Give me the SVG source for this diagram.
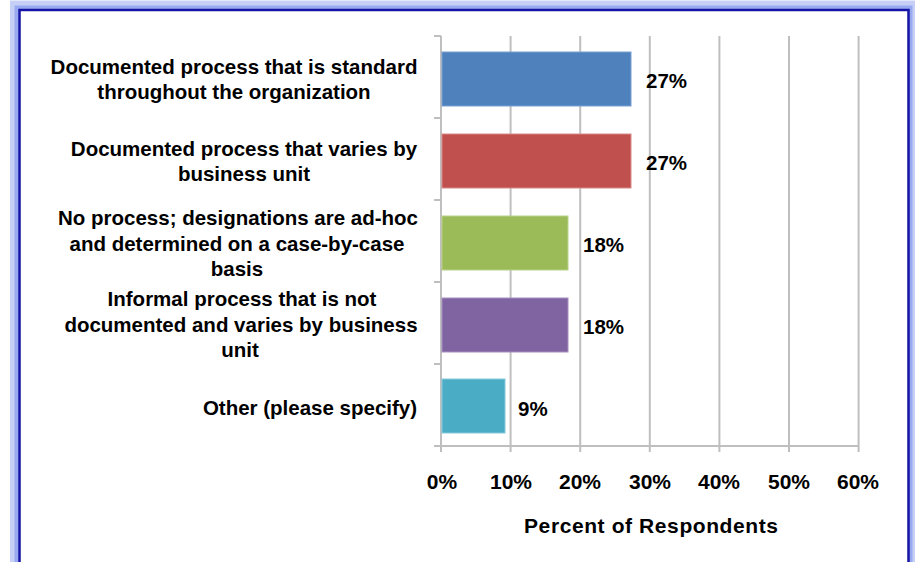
<svg xmlns="http://www.w3.org/2000/svg" width="915" height="562" viewBox="0 0 915 562">
<style>
.lbl{font-family:"Liberation Sans",Arial,sans-serif;font-weight:bold;font-size:20.5px;fill:#000;text-anchor:middle}
.val{font-family:"Liberation Sans",Arial,sans-serif;font-weight:bold;font-size:20.5px;fill:#000}
.tick{font-family:"Liberation Sans",Arial,sans-serif;font-weight:bold;font-size:21px;fill:#000;text-anchor:middle}
.grid{stroke:#bfbfbf;stroke-width:2;fill:none}
.bar{stroke-width:1}
</style>
<rect x="0" y="0" width="915" height="562" fill="#fff"/>
<!-- frame -->
<g id="frame" fill="none">
<rect x="14.5" y="5" width="898" height="620" stroke="#c6d0f6" stroke-width="9"/>
<rect x="16.5" y="7.5" width="894" height="620" stroke="#9aaaf0" stroke-width="4"/>
<rect x="19.5" y="10" width="889" height="620" stroke="#1515a5" stroke-width="2.5"/>
</g>
<!-- gridlines and axes -->
<g id="axes">
<line class="grid" x1="510.6" y1="36" x2="510.6" y2="452"/>
<line class="grid" x1="580.2" y1="36" x2="580.2" y2="452"/>
<line class="grid" x1="649.8" y1="36" x2="649.8" y2="452"/>
<line class="grid" x1="719.4" y1="36" x2="719.4" y2="452"/>
<line class="grid" x1="789" y1="36" x2="789" y2="452"/>
<line class="grid" x1="858.6" y1="36" x2="858.6" y2="452"/>
<line class="grid" x1="441" y1="36" x2="441" y2="452"/>
<line class="grid" x1="434" y1="446" x2="858.6" y2="446"/>
<line class="grid" x1="434" y1="36" x2="441" y2="36"/>
<line class="grid" x1="434" y1="118" x2="441" y2="118"/>
<line class="grid" x1="434" y1="200" x2="441" y2="200"/>
<line class="grid" x1="434" y1="282" x2="441" y2="282"/>
<line class="grid" x1="434" y1="364" x2="441" y2="364"/>
</g>
<!-- bars -->
<g id="bar1"><rect class="bar" x="442" y="52" width="189" height="54" fill="#4f81bd" stroke="#7aa0d4"/><text class="val" x="646" y="88">27%</text></g>
<g id="bar2"><rect class="bar" x="442" y="134" width="189" height="54" fill="#c0504d" stroke="#d88a88"/><text class="val" x="646" y="170">27%</text></g>
<g id="bar3"><rect class="bar" x="442" y="216" width="126" height="54" fill="#9bbb59" stroke="#b9d28a"/><text class="val" x="583" y="252">18%</text></g>
<g id="bar4"><rect class="bar" x="442" y="298" width="126" height="54" fill="#8064a2" stroke="#a690c0"/><text class="val" x="583" y="334">18%</text></g>
<g id="bar5"><rect class="bar" x="442" y="379" width="63" height="54" fill="#4bacc6" stroke="#86c9db"/><text class="val" x="518" y="416">9%</text></g>
<!-- category labels -->
<g id="label1"><text class="lbl" x="234" y="74">Documented process that is standard</text><text class="lbl" x="234" y="99">throughout the organization</text></g>
<g id="label2"><text class="lbl" x="244" y="156">Documented process that varies by</text><text class="lbl" x="244" y="181">business unit</text></g>
<g id="label3"><text class="lbl" x="238" y="225">No process; designations are ad-hoc</text><text class="lbl" x="237" y="251">and determined on a case-by-case</text><text class="lbl" x="237" y="276">basis</text></g>
<g id="label4"><text class="lbl" x="242" y="306">Informal process that is not</text><text class="lbl" x="241" y="332">documented and varies by business</text><text class="lbl" x="240" y="357">unit</text></g>
<g id="label5"><text class="lbl" x="310" y="415">Other (please specify)</text></g>
<!-- x-axis labels -->
<g id="xaxis">
<text class="tick" x="442" y="489">0%</text>
<text class="tick" x="511" y="489">10%</text>
<text class="tick" x="580" y="489">20%</text>
<text class="tick" x="650" y="489">30%</text>
<text class="tick" x="719" y="489">40%</text>
<text class="tick" x="789" y="489">50%</text>
<text class="tick" x="858" y="489">60%</text>
<text class="tick" x="651" y="533" textLength="254">Percent of Respondents</text>
</g>
</svg>
